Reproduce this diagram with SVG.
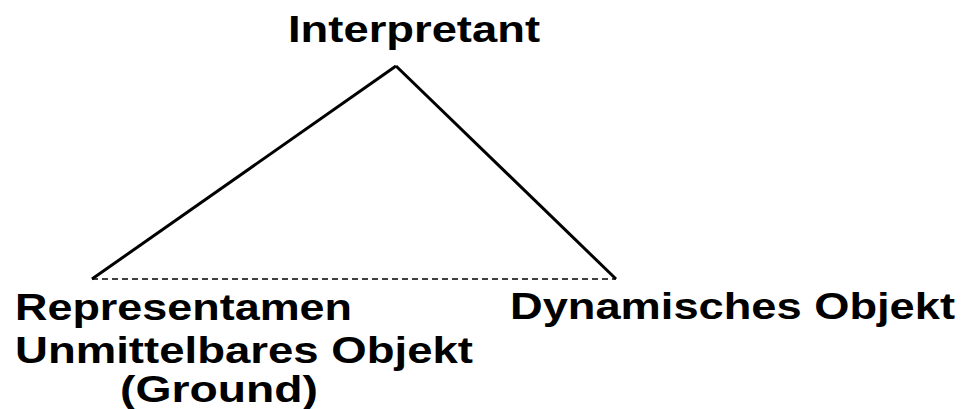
<svg xmlns="http://www.w3.org/2000/svg" width="963" height="409" viewBox="0 0 963 409">
<style>
.t{font-family:"Liberation Sans",Arial,sans-serif;font-weight:bold;font-size:37px;fill:#000}
.e{stroke:#000;stroke-width:3;fill:none}
.d{stroke:#000;stroke-width:1.5;stroke-dasharray:6 4;fill:none}
</style>
<rect width="963" height="409" fill="#fff"/>
<g id="connectors">
<line class="e" x1="92" y1="279" x2="396" y2="66"/>
<line class="e" x1="396" y1="66" x2="616" y2="279"/>
<line class="d" x1="92" y1="279" x2="616" y2="279"/>
</g>
<g id="interpretant"><text class="t" x="288" y="42" textLength="252" lengthAdjust="spacingAndGlyphs">Interpretant</text></g>
<g id="representamen">
<text class="t" x="15" y="320" textLength="337" lengthAdjust="spacingAndGlyphs">Representamen</text>
<text class="t" x="15" y="363" textLength="458" lengthAdjust="spacingAndGlyphs">Unmittelbares Objekt</text>
<text class="t" x="120" y="402" textLength="198" lengthAdjust="spacingAndGlyphs">(Ground)</text>
</g>
<g id="objekt"><text class="t" x="510" y="319" textLength="445" lengthAdjust="spacingAndGlyphs">Dynamisches Objekt</text></g>
</svg>
